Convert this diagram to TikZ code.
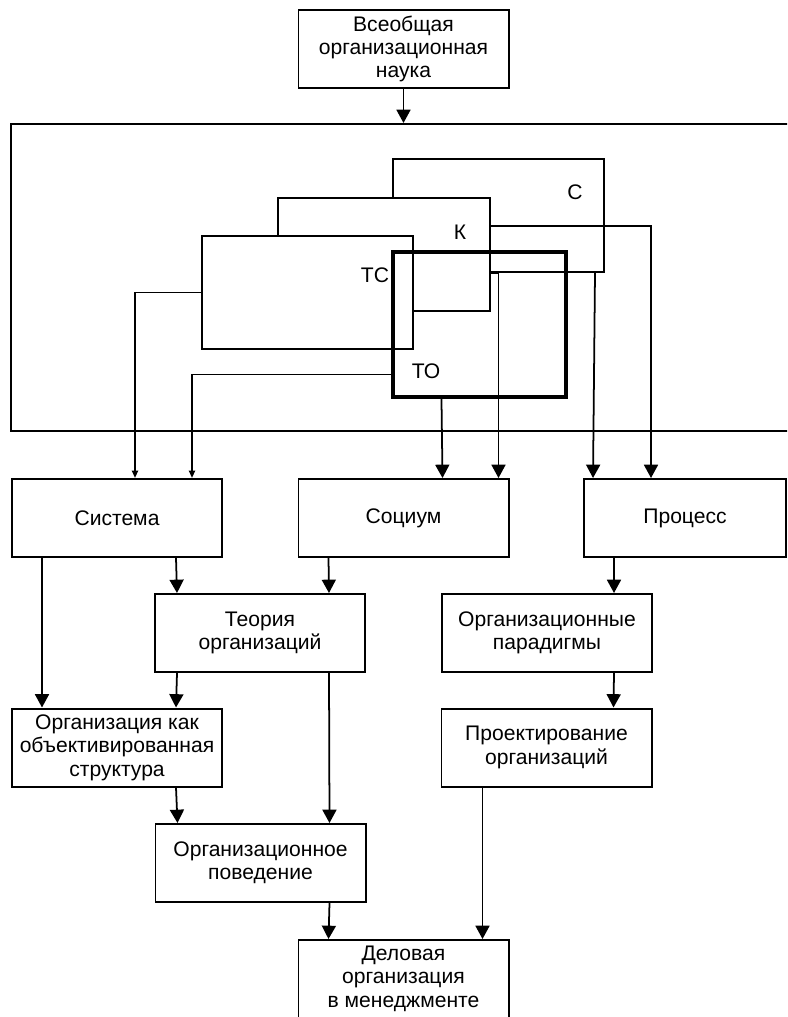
\documentclass[tikz,border=0pt]{standalone}
\usepackage{fontspec}
\setmainfont{Liberation Sans}
\usetikzlibrary{arrows.meta,calc}

\begin{document}
\begin{tikzpicture}[x=0.03cm,y=-0.03cm,
        blok/.style={draw,line width=1.7pt,fill=white,minimum width=6.3cm,minimum height=2.34cm,inner sep=1pt,align=center,font=\fontsize{18}{20}\selectfont},
        zona/.style={draw,line width=1.7pt,fill=white,inner sep=0pt},
        metka/.style={font=\fontsize{18}{20}\selectfont},
        strelka/.style={line width=1.5pt,-{Triangle[length=4mm,width=4.2mm]}},
        strelkam/.style={line width=1.5pt,-{Triangle[length=2.2mm,width=1.8mm]}}]
    \clip (0,0) rectangle (787,1017);
    \node[blok] (nauka) at (403.5,49) {Всеобщая\\организационная\\наука};
    \node[zona,minimum width=23.58cm,minimum height=9.21cm] (ramka) at (404,277.5) {};%depasse a droite
    \node[zona,minimum width=6.33cm,minimum height=3.39cm] (c) at (498.5,215.5) {};
    \node[zona,minimum width=6.36cm,minimum height=3.39cm] (k) at (384,254.5) {};
    \node[zona,minimum width=6.33cm,minimum height=3.39cm] (tc) at (307.5,292.5) {};
    \node[draw,line width=2.6pt,minimum width=5.19cm,minimum height=4.35cm,inner sep=0pt] (to) at (479.5,324.5) {};
    \node[metka] (cm) at (575,192) {С};
    \node[metka] (km) at (460,232) {К};
    \node[metka] (tcm) at (375,275) {ТС};
    \node[metka] (tom) at (426,371) {ТО};
    \node[blok] (sys) at (117,518) {Система};
    \node[blok] (soc) at (403.5,518) {Социум};
    \node[blok,minimum width=6.06cm] (proc) at (685,518) {Процесс};
    \node[blok] (teor) at (260,633) {Теория\\организаций};
    \node[blok] (parad) at (547,633) {Организационные\\парадигмы};
    \node[blok] (okos) at (117,747.5) {Организация как\\объективированная\\структура};
    \node[blok] (proekt) at (546.5,747.5) {Проектирование\\организаций};
    \node[blok] (povd) at (260.5,863) {Организационное\\поведение};
    \node[blok,anchor=north,inner ysep=5pt,text depth=2cm] (delo) at (403.5,939) {Деловая\\организация\\в менеджменте};
    \draw[strelka] (nauka.south) -- (nauka.south |- ramka.north);
    \draw[strelkam] (tc.west) -| ($(sys.north west)+(124,0)$);
    \draw[strelkam] ($(to.south west)+(0,-24)$) -| ($(sys.north west)+(181,0)$);
    \draw[strelka] ($(to.south west)+(50,0)$) -- ($(soc.north west)+(145,0)$);
    \draw[strelka] ($(k.south east)+(0,-39)$) -| ($(soc.north west)+(201,0)$);
    \draw[strelka] ($(c.south east)+(-10,0)$) -- ($(proc.north west)+(10,0)$);
    \draw[strelka] ($(k.north east)+(0,29)$) -| ($(proc.north west)+(68,0)$);
    \draw[strelka] ($(sys.south west)+(31,0)$) -- ($(okos.north west)+(31,0)$);
    \draw[strelka] ($(sys.south west)+(165,0)$) -- ($(teor.north west)+(23,0)$);
    \draw[strelka] ($(soc.south west)+(31,0)$) -- ($(teor.north west)+(175,0)$);
    \draw[strelka] ($(proc.south west)+(31,0)$) -- ($(parad.north west)+(173,0)$);
    \draw[strelka] ($(teor.south west)+(23,0)$) -- ($(okos.north west)+(165,0)$);
    \draw[strelka] ($(teor.south west)+(175,0)$) -- ($(povd.north west)+(175,0)$);
    \draw[strelka] ($(okos.south west)+(165,0)$) -- ($(povd.north west)+(23,0)$);
    \draw[strelka] ($(parad.south west)+(173,0)$) -- ($(proekt.north west)+(173,0)$);
    \draw[strelka] ($(povd.south west)+(175,0)$) -- ($(delo.north west)+(31,0)$);
    \draw[strelka] ($(proekt.south west)+(42,0)$) -- ($(delo.north west)+(185,0)$);
\end{tikzpicture}
\end{document}
